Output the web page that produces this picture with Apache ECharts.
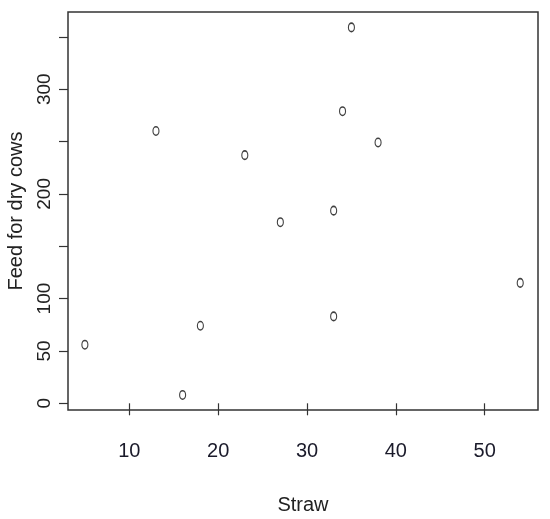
<!DOCTYPE html>
<html>
<head>
<meta charset="utf-8">
<script src="https://cdn.jsdelivr.net/npm/echarts@6/dist/echarts.min.js"></script>
<style>html,body{margin:0;padding:0;background:#fff}#c{width:550px;height:519px}</style>
</head>
<body>
<div id="c"></div>
<script>
var straw = [13, 23, 35, 34, 38, 33, 27, 5, 18, 16, 33, 54];
var feed = [260, 237, 359, 279, 249, 184, 173, 56, 74, 8, 83, 115];
var xTicks = [10, 20, 30, 40, 50];
var yTicks = [0, 50, 100, 150, 200, 250, 300, 350];
var yLabels = [0, 50, 100, 200, 300];

var points = straw.map(function (s, i) { return [s, feed[i]]; });

var chart = echarts.init(document.getElementById('c'), null, {renderer: 'canvas'});
chart.setOption({
  animation: false,
  backgroundColor: '#fff',
  grid: {left: 68, top: 12, right: 12, bottom: 109, outerBoundsMode: 'none', containLabel: false, show: true, borderColor: '#333', borderWidth: 1.5, backgroundColor: 'transparent'},
  xAxis: {
    type: 'value', min: 3.1, max: 56,
    name: 'Straw', nameLocation: 'middle', nameGap: 85,
    nameTextStyle: {fontFamily: 'Liberation Sans', fontSize: 20, color: '#222'},
    splitLine: {show: false},
    axisLine: {show: false},
    axisTick: {show: true, length: 12, customValues: xTicks, lineStyle: {color: '#333', width: 1.2}},
    axisLabel: {customValues: xTicks, margin: 31, fontFamily: 'Liberation Sans', fontSize: 20, color: '#1a1a2a'}
  },
  yAxis: {
    type: 'value', min: -6.4, max: 373.7,
    name: 'Feed for dry cows', nameLocation: 'middle', nameGap: 42, nameRotate: 90,
    nameTextStyle: {fontFamily: 'Liberation Sans', fontSize: 20, color: '#222'},
    splitLine: {show: false},
    axisLine: {show: false},
    axisTick: {show: true, length: 9, customValues: yTicks, lineStyle: {color: '#333', width: 1.2}},
    axisLabel: {customValues: yLabels, rotate: 90, margin: 14, fontFamily: 'Liberation Sans', fontSize: 19, color: '#222'}
  },
  series: [{
    type: 'scatter',
    data: points,
    symbol: 'path://M5,0 A5,5 0 1,1 5,10 A5,5 0 1,1 5,0 Z',
    symbolKeepAspect: false,
    symbolSize: [6, 8.5],
    itemStyle: {color: '#fff', borderColor: '#111', borderWidth: 1.3}
  }]
});
</script>
</body>
</html>
